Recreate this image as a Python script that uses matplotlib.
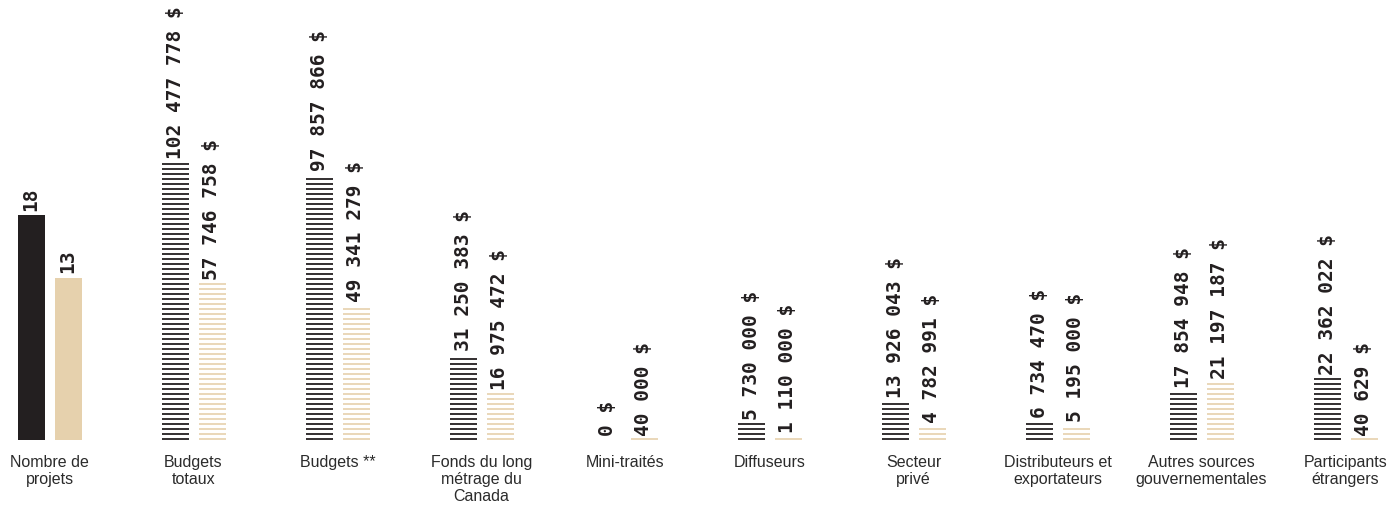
import matplotlib.pyplot as plt
import numpy as np

#%% Donnees

categories = ['Nombre de\nprojets', 'Budgets\ntotaux', 'Budgets **',
              'Fonds du long\nmétrage du\nCanada', 'Mini-traités', 'Diffuseurs',
              'Secteur\nprivé', 'Distributeurs et\nexportateurs',
              'Autres sources\ngouvernementales', 'Participants\nétrangers']

nb_projets = [18, 13]

montants_noir = [102477778, 97857866, 31250383, 0, 5730000,
                 13926043, 6734470, 17854948, 22362022]
montants_beige = [57746758, 49341279, 16975472, 40000, 1110000,
                  4782991, 5195000, 21197187, 40629]

#%% Style

noir = '#231f20'
beige = '#e6d1ad'
beige_ligne = '#e4cda6'

W, H = 1393, 512
base_px = 72          # hauteur sous la ligne de base
px_par_million = 2.703
px_par_projet = 12.5
pas_groupe = 144.0    # px entre deux groupes
centre0 = 49.5        # px du premier groupe
largeur = 27 / pas_groupe
decal = 18.5 / pas_groupe

fig = plt.figure(figsize=(W / 100, H / 100), dpi=100)
ax = fig.add_axes([0, base_px / H, 1, (H - base_px) / H])
haut_px = H - base_px
ax.set_xlim(-centre0 / pas_groupe, (W - centre0) / pas_groupe)
ax.set_ylim(0, haut_px / px_par_million * 1e6)
ax.axis('off')

ax2 = ax.twinx()
ax2.set_ylim(0, haut_px / px_par_projet)
ax2.axis('off')

unite_px = ax.get_ylim()[1] / haut_px   # dollars par pixel

def etiquette(axe, x, v, txt):
    axe.annotate(txt, (x, v), xytext=(0, 3), textcoords='offset points',
                 rotation=90, ha='center', va='bottom', color=noir,
                 fontfamily='DejaVu Sans Mono', fontweight='bold', fontsize=14)

def barre_rayee(x, v, couleur, lw):
    if v <= 0:
        return
    pas = 5 * unite_px
    ys = np.arange(0, v, pas) + 1.0 * unite_px
    ax.hlines(ys, x - largeur / 2, x + largeur / 2, colors=couleur, lw=lw)

def fmt(v):
    return f'{v:,}'.replace(',', ' ') + ' $'

#%% Nombre de projets

ax2.bar([-decal, decal], nb_projets, width=largeur, color=[noir, beige])
for x, v in zip([-decal, decal], nb_projets):
    etiquette(ax2, x, v, str(v))

#%% Montants

for i, (vn, vb) in enumerate(zip(montants_noir, montants_beige)):
    g = i + 1
    barre_rayee(g - decal, vn, noir, 1.3)
    barre_rayee(g + decal, vb, beige_ligne, 1.1)
    etiquette(ax, g - decal, vn, fmt(vn))
    etiquette(ax, g + decal, vb, fmt(vb))

#%% Libelles des groupes

for g, cat in enumerate(categories):
    ax.annotate(cat, (g, 0), xytext=(0, -11), textcoords='offset points',
                ha='center', va='top', fontsize=11.5, linespacing=1.15,
                family='Liberation Sans', color='#2b2b2b')

fig.savefig('out.png', dpi=100)
